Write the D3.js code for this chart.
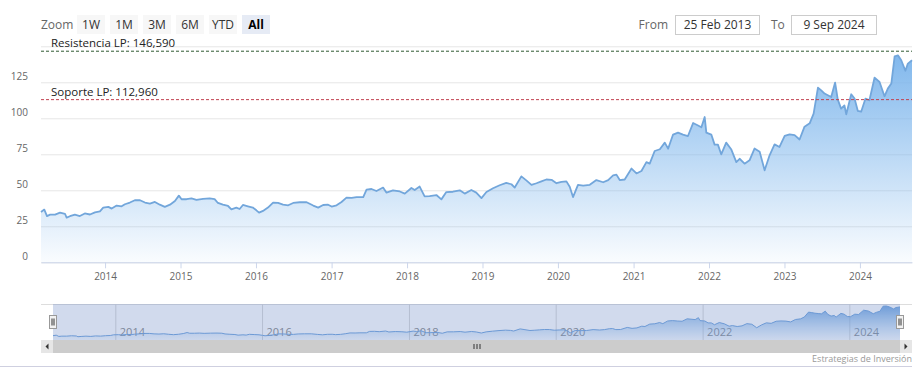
<!DOCTYPE html>
<html>
<head>
<meta charset="utf-8">
<script src="https://d3js.org/d3.v7.min.js"></script>
<style>
  body { margin: 0; background: #fff; }
  svg { font-family: "Open Sans", sans-serif; display: block; }
</style>
</head>
<body>
<svg id="chart" width="920" height="384"></svg>
<script>

  // price series
  var dates = [
    "2013-02-25","2013-03-13","2013-03-26","2013-04-10","2013-05-04","2013-05-28","2013-06-21","2013-06-29",
    "2013-07-15","2013-08-08","2013-09-01","2013-09-25","2013-10-20","2013-11-13","2013-12-07","2013-12-23",
    "2014-01-17","2014-02-02","2014-02-26","2014-03-22","2014-04-07","2014-05-01","2014-05-25","2014-06-19",
    "2014-07-13","2014-08-06","2014-08-30","2014-09-23","2014-10-17","2014-11-11","2014-12-05","2014-12-24",
    "2015-01-06","2015-01-30","2015-02-23","2015-03-19","2015-04-20","2015-05-22","2015-06-15","2015-07-01",
    "2015-07-25","2015-08-19","2015-09-04","2015-09-28","2015-10-14","2015-10-30","2015-11-23","2015-12-17",
    "2016-01-03","2016-01-16","2016-02-04","2016-02-28","2016-03-24","2016-04-17","2016-05-11","2016-06-05",
    "2016-06-29","2016-07-31","2016-09-02","2016-10-04","2016-10-28","2016-11-21","2016-12-15","2017-01-01",
    "2017-01-25","2017-02-18","2017-03-14","2017-04-08","2017-05-02","2017-06-03","2017-06-19","2017-07-13",
    "2017-08-06","2017-09-07","2017-09-23","2017-10-25","2017-11-27","2017-12-21","2018-01-22","2018-02-07",
    "2018-03-03","2018-03-27","2018-04-20","2018-05-23","2018-06-16","2018-07-10","2018-08-11","2018-09-13",
    "2018-10-07","2018-11-08","2018-12-02","2018-12-27","2019-01-20","2019-02-21","2019-03-25","2019-04-26",
    "2019-05-21","2019-06-06","2019-07-08","2019-08-01","2019-08-26","2019-09-19","2019-10-13","2019-11-06",
    "2019-12-01","2019-12-25","2020-01-18","2020-02-11","2020-02-27","2020-03-14","2020-04-07","2020-05-02",
    "2020-06-03","2020-07-05","2020-08-07","2020-08-31","2020-09-24","2020-10-10","2020-10-26","2020-11-19",
    "2020-12-22","2021-01-15","2021-02-08","2021-03-04","2021-03-20","2021-04-13","2021-05-08","2021-06-01",
    "2021-06-17","2021-07-11","2021-08-04","2021-08-28","2021-09-21","2021-10-16","2021-11-09","2021-11-25",
    "2021-12-11","2021-12-19","2022-01-12","2022-01-28","2022-02-13","2022-03-01","2022-03-25","2022-04-19",
    "2022-05-13","2022-05-29","2022-06-22","2022-07-16","2022-08-09","2022-09-03","2022-09-27","2022-10-21",
    "2022-11-14","2022-12-08","2023-01-02","2023-01-26","2023-02-19","2023-03-15","2023-04-08","2023-05-03",
    "2023-05-22","2023-06-12","2023-06-28","2023-07-14","2023-07-30","2023-08-15","2023-09-03","2023-09-16",
    "2023-10-02","2023-10-18","2023-10-27","2023-11-20","2023-12-06","2023-12-22","2024-01-07","2024-01-28",
    "2024-02-16","2024-03-12","2024-04-05","2024-04-29","2024-05-15","2024-06-01","2024-06-17","2024-07-03",
    "2024-07-19","2024-08-08","2024-08-20","2024-09-09"
  ];
  var prices = [
    34.9,36.6,32.1,33.1,33.1,34.5,33.7,31.0, 32.0,33.1,32.1,33.9,33.2,34.7,35.4,38.0,
    38.5,37.3,39.4,38.9,40.3,41.5,43.1,43.1, 41.5,40.8,41.9,40.0,38.5,40.0,42.6,46.3,
    43.8,43.8,44.4,43.4,44.1,44.4,43.9,41.2, 40.0,39.1,36.8,38.0,37.0,39.8,38.9,38.0,
    36.1,34.5,35.7,38.0,41.5,41.2,40.0,39.6, 41.2,41.7,41.7,39.4,38.0,39.8,40.0,38.7,
    39.6,41.9,44.9,44.7,45.3,45.3,50.5,50.9, 49.5,51.9,48.4,50.0,49.2,47.7,51.6,50.2,
    52.6,45.8,46.0,46.7,43.7,48.8,49.0,50.0, 47.7,50.2,48.4,44.6,48.8,51.4,53.5,55.1,
    54.2,51.9,59.7,56.9,53.8,54.9,56.2,57.5, 57.3,54.9,55.8,56.2,52.5,45.3,53.8,53.3,
    53.8,57.1,55.6,57.1,60.4,60.9,57.1,57.5, 65.1,61.7,63.4,69.6,68.5,77.3,78.5,83.1,
    78.9,88.7,90.1,88.7,87.7,96.7,95.0,93.8, 100.9,90.1,88.7,81.7,81.7,75.0,83.1,78.3,
    69.6,71.9,68.5,70.8,79.0,76.7,63.9,74.3, 81.9,80.1,87.8,88.9,88.3,85.3,94.2,96.5,
    103.2,121.3,119.4,117.2,116.0,114.8,124.8,113.0, 106.7,109.0,102.8,116.7,113.7,105.1,104.6,113.7,
    112.5,128.3,125.2,115.3,120.6,124.1,143.0,143.7, 140.3,133.0,138.0,140.3
  ];

  var yGridValues = [0, 25, 50, 75, 100, 125, 150];
  var yTickLabels = [0, 25, 50, 75, 100, 125];
  var zoomButtons = ["1W", "1M", "3M", "6M", "YTD", "All"];
  var levelNames = ["Resistencia LP: 146,590", "Soporte LP: 112,960"];
  var levelValues = [146.59, 112.96];
  var levelColors = ["#2f5a32", "#c2404f"];
  var fromLabel = "25 Feb 2013", toLabel = "9 Sep 2024";

  var parseDate = d3.timeParse("%Y-%m-%d");
  var series = dates.map(function(d, i) { return {date: parseDate(d), value: prices[i]}; });

  var svg = d3.select("#chart");
  var plot = {left: 41, right: 912, top: 46.3, bottom: 262.3};

  var x = d3.scaleTime().domain(d3.extent(series, function(d) { return d.date; })).range([plot.left, plot.right]);
  var y = d3.scaleLinear().domain([0, 150]).range([plot.bottom, plot.top]);

  var defs = svg.append("defs");
  var grad = defs.append("linearGradient").attr("id", "areaFill")
    .attr("gradientUnits", "userSpaceOnUse").attr("x1", 0).attr("x2", 0).attr("y1", plot.top).attr("y2", plot.bottom);
  grad.append("stop").attr("offset", "0%").attr("stop-color", "#7cb5ec").attr("stop-opacity", 1);
  grad.append("stop").attr("offset", "100%").attr("stop-color", "#7cb5ec").attr("stop-opacity", 0.04);

  // y grid + labels
  svg.append("g")
    .attr("transform", "translate(" + plot.left + ",0)")
    .call(d3.axisLeft(y).tickValues(yGridValues).tickSize(-(plot.right - plot.left)).tickPadding(13)
      .tickFormat(function(d) { return yTickLabels.indexOf(d) >= 0 ? d : ""; }))
    .call(function(g) { g.select(".domain").remove(); })
    .call(function(g) { g.selectAll(".tick line").attr("stroke", "#e6e6e6"); })
    .call(function(g) {
      g.selectAll(".tick text").attr("dy", "-0.25em").attr("fill", "#666")
        .style("font-size", "10px").style("font-family", "Open Sans, sans-serif");
    });

  // area + line
  var area = d3.area().x(function(d) { return x(d.date); }).y0(y(0)).y1(function(d) { return y(d.value); });
  var line = d3.line().x(function(d) { return x(d.date); }).y(function(d) { return y(d.value); });

  svg.append("path").datum(series).attr("d", area).attr("fill", "url(#areaFill)");
  svg.append("path").datum(series).attr("d", line)
    .attr("fill", "none").attr("stroke", "#72a6db").attr("stroke-width", 1.8).attr("stroke-linejoin", "round");

  // x axis
  svg.append("g")
    .attr("transform", "translate(0," + plot.bottom + ")")
    .call(d3.axisBottom(x).ticks(d3.timeYear.every(1)).tickFormat(d3.timeFormat("%Y"))
      .tickSize(6).tickSizeOuter(0).tickPadding(5))
    .call(function(g) { g.select(".domain").attr("stroke", "#ccd6eb"); })
    .call(function(g) { g.selectAll(".tick line").attr("stroke", "#ccd6eb"); })
    .call(function(g) {
      g.selectAll(".tick text").attr("fill", "#666")
        .style("font-size", "10px").style("font-family", "Open Sans, sans-serif");
    });

  // support / resistance
  levelValues.forEach(function(v, i) {
    svg.append("line")
      .attr("x1", plot.left).attr("x2", plot.right)
      .attr("y1", y(v)).attr("y2", y(v))
      .attr("stroke", levelColors[i]).attr("stroke-width", 1).attr("stroke-dasharray", "3,2");
    svg.append("text")
      .attr("x", plot.left + 10).attr("y", y(v) - 4)
      .attr("fill", "#222").style("font-size", "11.5px")
      .text(levelNames[i]);
  });

  // range selector
  svg.append("text").attr("x", 41).attr("y", 28.5).attr("fill", "#666").style("font-size", "12px").text("Zoom");
  var band = d3.scaleBand().domain(zoomButtons).range([77, 270]).paddingInner(0.152);
  var btn = svg.selectAll(".zbtn").data(zoomButtons).enter().append("g").attr("class", "zbtn");
  btn.append("rect")
    .attr("x", function(d) { return band(d); }).attr("y", 15)
    .attr("width", band.bandwidth()).attr("height", 19)
    .attr("fill", function(d) { return d === "All" ? "#e6ebf5" : "#f7f7f7"; });
  btn.append("text")
    .attr("x", function(d) { return band(d) + band.bandwidth() / 2; }).attr("y", 28.5)
    .attr("text-anchor", "middle").style("font-size", "12px")
    .attr("font-weight", function(d) { return d === "All" ? "bold" : "normal"; })
    .attr("fill", function(d) { return d === "All" ? "#000" : "#333"; })
    .text(function(d) { return d; });

  // date inputs
  svg.append("text").attr("x", 668).attr("y", 28.5).attr("text-anchor", "end")
    .attr("fill", "#666").style("font-size", "12px").text("From");
  svg.append("rect").attr("x", 675.5).attr("y", 15.5).attr("width", 84).attr("height", 19)
    .attr("fill", "#fff").attr("stroke", "#ccc");
  svg.append("text").attr("x", 717.5).attr("y", 29).attr("text-anchor", "middle")
    .attr("fill", "#333").style("font-size", "12px").text(fromLabel);
  svg.append("text").attr("x", 771).attr("y", 28.5)
    .attr("fill", "#666").style("font-size", "12px").text("To");
  svg.append("rect").attr("x", 791.5).attr("y", 15.5).attr("width", 85).attr("height", 19)
    .attr("fill", "#fff").attr("stroke", "#ccc");
  svg.append("text").attr("x", 834).attr("y", 29).attr("text-anchor", "middle")
    .attr("fill", "#333").style("font-size", "12px").text(toLabel);

  // navigator
  var nav = {left: 53, right: 900, top: 304, bottom: 340};
  var xNav = d3.scaleTime().domain(x.domain()).range([nav.left, nav.right]);
  var yNav = d3.scaleLinear().domain([19, 151]).range([nav.bottom, nav.top]);

  var ng = defs.append("linearGradient").attr("id", "navFill")
    .attr("gradientUnits", "userSpaceOnUse").attr("x1", 0).attr("x2", 0).attr("y1", nav.top).attr("y2", nav.bottom);
  ng.append("stop").attr("offset", "0%").attr("stop-color", "#5b97db").attr("stop-opacity", 0.9);
  ng.append("stop").attr("offset", "100%").attr("stop-color", "#7cb5ec").attr("stop-opacity", 0.05);

  svg.append("line").attr("x1", 41).attr("x2", 912).attr("y1", nav.top + 0.5).attr("y2", nav.top + 0.5)
    .attr("stroke", "#ddd");

  var navGridYears = xNav.ticks(d3.timeYear.every(2));
  svg.append("g")
    .attr("transform", "translate(0," + nav.top + ")")
    .call(d3.axisBottom(xNav).tickValues(navGridYears).tickFormat(d3.timeFormat("%Y"))
      .tickSize(nav.bottom - nav.top).tickSizeOuter(0).tickPadding(0))
    .call(function(g) { g.select(".domain").remove(); })
    .call(function(g) { g.selectAll(".tick line").attr("stroke", "#d8d8d8"); })
    .call(function(g) {
      g.selectAll(".tick text").attr("text-anchor", "start").attr("x", 4).attr("y", 32).attr("dy", 0)
        .attr("fill", "#888").style("font-size", "11px").style("font-family", "Open Sans, sans-serif");
    });

  var navArea = d3.area().x(function(d) { return xNav(d.date); }).y0(nav.bottom).y1(function(d) { return yNav(d.value); });
  var navLine = d3.line().x(function(d) { return xNav(d.date); }).y(function(d) { return yNav(d.value); });
  svg.append("path").datum(series).attr("d", navArea).attr("fill", "url(#navFill)");
  svg.append("path").datum(series).attr("d", navLine).attr("fill", "none").attr("stroke", "#6fa3dd").attr("stroke-width", 1);

  // selected range mask
  svg.append("rect").attr("x", nav.left).attr("y", nav.top).attr("width", nav.right - nav.left).attr("height", nav.bottom - nav.top)
    .attr("fill", "rgba(102,133,194,0.3)");

  // handles
  [nav.left, nav.right].forEach(function(hx) {
    var h = svg.append("g").attr("transform", "translate(" + (Math.round(hx) - 3.5) + ",315.5)");
    h.append("rect").attr("width", 7).attr("height", 13).attr("fill", "#f2f2f2").attr("stroke", "#999");
    h.append("line").attr("x1", 2.5).attr("x2", 2.5).attr("y1", 3).attr("y2", 10).attr("stroke", "#333");
    h.append("line").attr("x1", 4.5).attr("x2", 4.5).attr("y1", 3).attr("y2", 10).attr("stroke", "#333");
  });

  // scrollbar
  svg.append("rect").attr("x", 41).attr("y", 340).attr("width", 871).attr("height", 13).attr("fill", "#f2f2f2");
  svg.append("rect").attr("x", nav.left).attr("y", 340).attr("width", nav.right - nav.left).attr("height", 13).attr("fill", "#cccccc");
  [41, nav.right].forEach(function(bx, i) {
    svg.append("rect").attr("x", bx).attr("y", 340).attr("width", 12).attr("height", 13).attr("fill", "#e6e6e6");
    var cx = bx + 6;
    var pts = i === 0 ? [[cx + 1.5, 343.5], [cx + 1.5, 349.5], [cx - 1.5, 346.5]] : [[cx - 1.5, 343.5], [cx - 1.5, 349.5], [cx + 1.5, 346.5]];
    svg.append("path").attr("d", d3.line()(pts) + "Z").attr("fill", "#333");
  });
  var gx = (nav.left + nav.right) / 2;
  [-3, 0, 3].forEach(function(o) {
    svg.append("line").attr("x1", gx + o + 0.5).attr("x2", gx + o + 0.5).attr("y1", 344).attr("y2", 349)
      .attr("stroke", "#333").attr("stroke-width", 1);
  });

  // credits + bottom border
  svg.append("text").attr("x", 912).attr("y", 362).attr("text-anchor", "end")
    .attr("fill", "#999").style("font-size", "9px").text("Estrategias de Inversión");
  svg.append("line").attr("x1", 0).attr("x2", 912).attr("y1", 366.5).attr("y2", 366.5).attr("stroke", "#cfd0e0");

</script>
</body>
</html>
